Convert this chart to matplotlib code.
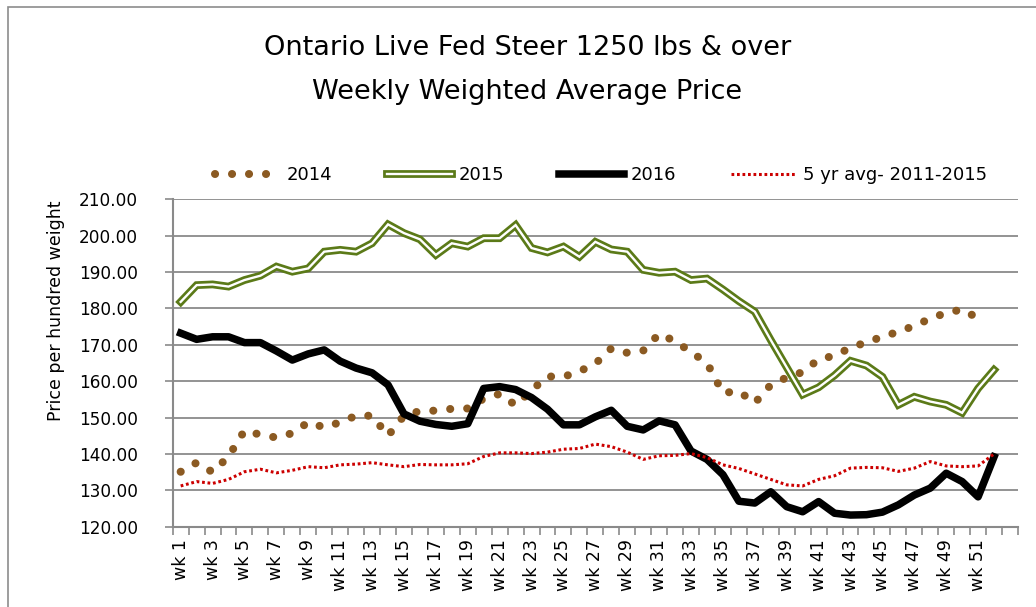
import matplotlib
matplotlib.use("Agg")
import matplotlib.pyplot as plt
import matplotlib.patheffects as pe
from matplotlib.patches import Rectangle
import numpy as np

weeks = ["wk %d" % i for i in range(1, 53)] + [""]

price_2014 = [135.1, 137.6, 135.0, 139.3, 146.4, 145.3, 144.5, 145.7, 148.7, 147.3,
              148.7, 150.5, 150.5, 145.0, 150.5, 151.8, 151.9, 152.4, 152.5, 155.2,
              156.5, 153.4, 157.5, 161.3, 161.2, 162.7, 164.8, 169.0, 167.8, 168.4,
              173.0, 171.0, 168.0, 165.0, 156.8, 157.2, 154.0, 159.0, 161.0, 162.5,
              166.0, 167.0, 169.2, 170.7, 172.2, 173.6, 175.2, 177.2, 178.8, 179.7,
              177.3]

price_2015 = [181.8, 186.4, 186.6, 186.0, 187.8, 189.0, 191.5, 190.1, 191.0, 195.6,
              196.1, 195.6, 197.9, 203.1, 200.7, 199.0, 194.7, 197.9, 197.0, 199.3,
              199.3, 202.9, 196.6, 195.4, 197.0, 194.2, 198.3, 196.2, 195.6, 190.6,
              189.8, 190.1, 187.8, 188.2, 185.2, 182.0, 179.1, 171.3, 163.8, 156.3,
              158.3, 161.6, 165.6, 164.3, 161.2, 153.5, 155.7, 154.4, 153.5, 151.3,
              158.0, 163.1]

price_2016 = [173.2, 171.5, 172.2, 172.2, 170.6, 170.6, 168.3, 165.8, 167.5, 168.6,
              165.5, 163.6, 162.3, 159.0, 151.0, 149.0, 148.1, 147.6, 148.3, 158.0,
              158.5, 157.7, 155.5, 152.3, 148.0, 148.0, 150.2, 152.0, 147.6, 146.6,
              149.1, 148.0, 140.8, 138.5, 134.3, 127.0, 126.5, 129.6, 125.5, 124.1,
              126.9, 123.7, 123.2, 123.3, 124.0, 126.0, 128.7, 130.6, 134.7, 132.4,
              128.2, 139.2]

avg_5yr = [131.2, 132.4, 131.9, 133.0, 135.1, 135.8, 134.8, 135.5, 136.5, 136.2,
           137.0, 137.2, 137.6, 137.0, 136.5, 137.1, 137.0, 137.0, 137.3, 139.3,
           140.3, 140.3, 140.1, 140.5, 141.3, 141.5, 142.7, 142.0, 140.5, 138.5,
           139.5, 139.6, 140.1, 139.0, 137.0, 136.0, 134.5, 133.0, 131.5, 131.2,
           133.0, 134.0, 136.1, 136.3, 136.2, 135.2, 136.1, 137.9, 136.7, 136.5,
           136.7, 140.0]

font = "DejaVu Sans"
plt.rcParams["font.family"] = font

fig = plt.figure(figsize=(10.36, 6.07), dpi=100)
ax = fig.add_axes([0.1667, 0.1323, 0.9826 - 0.1667, 0.6717 - 0.1323])

# chart border (only left and top edges fall inside the image)
fig.patches.append(Rectangle((7.5 / 1036, -0.1), 1.2, 1 - 7 / 607 + 0.1,
                             transform=fig.transFigure, fill=False,
                             edgecolor="#8c8c8c", lw=1.2))

green = "#5b7a18"
brown = "#8b5a22"
red = "#cc0000"

x14 = np.arange(1, len(price_2014) + 1)
x = np.arange(1, len(price_2015) + 1)

ax.plot(x14, price_2014, color=brown, lw=5.8, linestyle=(0, (0.01, 2.1)),
        dash_capstyle="round", solid_capstyle="round", label="2014", zorder=3)
ax.plot(x, price_2015, color="white", lw=1.7, label="2015", zorder=4,
        solid_joinstyle="miter",
        path_effects=[pe.Stroke(linewidth=5.6, foreground=green), pe.Normal()])
ax.plot(x, price_2016, color="black", lw=5.4, label="2016", zorder=5,
        solid_joinstyle="round")
ax.plot(x, avg_5yr, color=red, lw=2.2, linestyle=(0, (0.9, 0.9)),
        dash_capstyle="butt", label="5 yr avg- 2011-2015", zorder=6)

ax.set_xlim(0.5, len(weeks) + 0.5)
ax.set_ylim(120, 210)
ax.set_yticks(np.arange(120, 211, 10))
ax.yaxis.set_major_formatter(plt.FormatStrFormatter("%.2f"))
ax.yaxis.grid(True, color="#8a8a8a", lw=1.3)
ax.set_axisbelow(True)

ax.set_xticks(np.arange(1, len(weeks) + 1))
ax.set_xticklabels([w if i % 2 == 0 else "" for i, w in enumerate(weeks)],
                   rotation=90, fontsize=12.5)
ax.set_xticks(np.arange(0.5, len(weeks) + 1), minor=True)
ax.tick_params(axis="x", which="major", length=0, pad=9)
ax.tick_params(axis="x", which="minor", length=6, width=1.2, color="#8a8a8a")
ax.tick_params(axis="y", length=6, width=1.2, color="#8a8a8a", pad=19,
               labelsize=12.2)

for side in ["top", "right"]:
    ax.spines[side].set_visible(False)
for side in ["left", "bottom"]:
    ax.spines[side].set_color("#8a8a8a")
    ax.spines[side].set_linewidth(1.5)

fig.text(56 / 1036, 1 - 311 / 607, "Price per hundred weight", rotation=90,
         ha="center", va="center", fontsize=12.5)

fig.text(0.509, 1 - 48 / 607, "Ontario Live Fed Steer 1250 lbs & over",
         ha="center", va="center", fontsize=19.5)
fig.text(0.509, 1 - 92 / 607, "Weekly Weighted Average Price",
         ha="center", va="center", fontsize=19.5)

fig.legend(loc="center", bbox_to_anchor=(0.58, 1 - 175 / 607), ncol=4,
           frameon=False, fontsize=13, handlelength=3.6, handletextpad=0.4,
           columnspacing=3.0)

fig.savefig("out.png", dpi=100)
